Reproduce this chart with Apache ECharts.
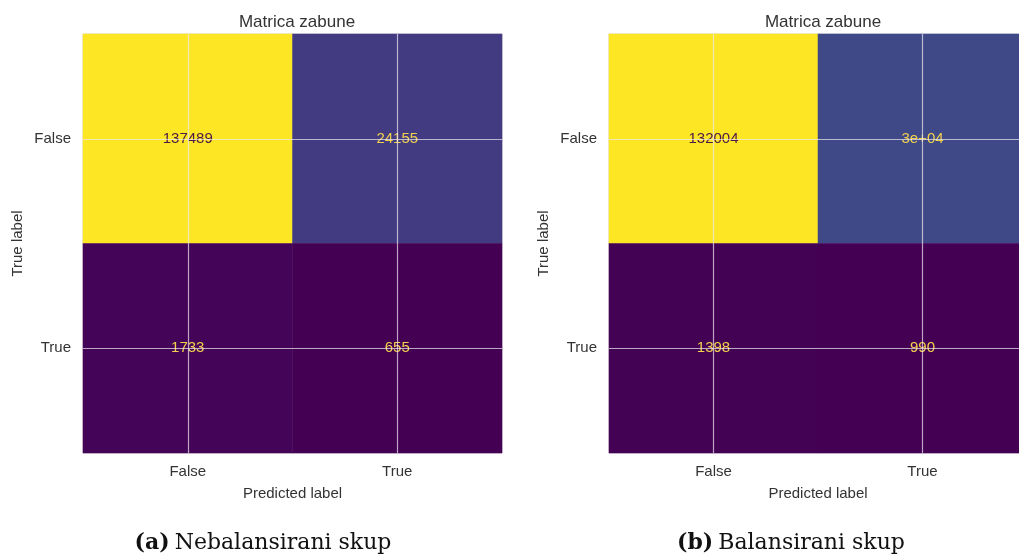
<!DOCTYPE html>
<html>
<head>
<meta charset="utf-8">
<title>Matrica zabune</title>
<script src="https://cdn.jsdelivr.net/npm/echarts@6/dist/echarts.min.js"></script>
<style>
  html, body { margin: 0; padding: 0; background: #ffffff; }
  #chart { width: 1019px; height: 557px; }
</style>
</head>
<body>
<div id="chart"></div>
<script>
// Class labels shared by both matrices
const classes = ['False', 'True'];

// Confusion matrix counts, rows = true label, columns = predicted label
const unbalancedRowFalse = [137489, 24155];
const unbalancedRowTrue = [1733, 655];
const balancedRowFalse = [132004, 29640];
const balancedRowTrue = [1398, 990];

const panelTitle = 'Matrica zabune';
const xAxisTitle = 'Predicted label';
const yAxisTitle = 'True label';
const captionA = ['(a)', 'Nebalansirani skup'];
const captionB = ['(b)', 'Balansirani skup'];

// viridis colour ramp
const viridis = ['#440154', '#482475', '#414487', '#355f8d', '#2a788e', '#21918c',
                 '#22a884', '#44bf70', '#7ad151', '#bddf26', '#fde725'];

// Text formatting in the style of '.2g' with a fallback to plain integers
function fmtG2(v) {
  if (v === 0) return '0';
  const rounded = Number(v.toPrecision(2));
  const e2 = Math.floor(Math.log10(Math.abs(rounded)));
  if (e2 < -4 || e2 >= 2) {
    const mant = (rounded / Math.pow(10, e2)).toFixed(1).replace(/\.?0+$/, '');
    const sign = e2 < 0 ? '-' : '+';
    const ee = String(Math.abs(e2)).padStart(2, '0');
    return mant + 'e' + sign + ee;
  }
  return String(rounded);
}
function cellText(v) {
  const g = fmtG2(v);
  const d = String(Math.round(v));
  return d.length < g.length ? d : g;
}

function toCells(rowFalse, rowTrue) {
  const out = [];
  [rowFalse, rowTrue].forEach((row, yi) => {
    row.forEach((v, xi) => out.push([xi, yi, v]));
  });
  return out;
}

const textFont = 'Liberation Sans, Arial, sans-serif';
const gridLineStyle = { color: 'rgba(236,230,240,0.72)', width: 1.2, type: 'solid' };

function buildSeries(idx, cells) {
  const vals = cells.map(c => c[2]);
  const lo = Math.min(...vals), hi = Math.max(...vals);
  const thresh = (lo + hi) / 2;
  return {
    type: 'heatmap',
    xAxisIndex: idx,
    yAxisIndex: idx,
    data: cells.map(c => ({
      value: c,
      label: { color: c[2] > thresh ? '#4a1746' : '#f2d24c' }
    })),
    label: {
      show: true,
      fontFamily: textFont,
      fontSize: 15,
      formatter: p => cellText(p.value[2])
    },
    itemStyle: { borderWidth: 0 },
    emphasis: { disabled: true },
    // grid lines through the centre of each class
    markLine: {
      silent: true,
      symbol: ['none', 'none'],
      label: { show: false },
      lineStyle: gridLineStyle,
      emphasis: { disabled: true },
      animation: false,
      data: classes.map(c => ({ xAxis: c })).concat(classes.map(c => ({ yAxis: c })))
    },
    z: 2
  };
}

const cellsA = toCells(unbalancedRowFalse, unbalancedRowTrue);
const cellsB = toCells(balancedRowFalse, balancedRowTrue);

function rangeOf(cells) {
  const v = cells.map(c => c[2]);
  return [Math.min(...v), Math.max(...v)];
}

function xAx(idx) {
  return {
    type: 'category', gridIndex: idx, data: classes,
    axisLine: { show: false }, axisTick: { show: false },
    splitLine: { show: false },
    axisLabel: { color: '#333', fontSize: 15, fontFamily: textFont, margin: 11, interval: 0 },
    name: xAxisTitle, nameLocation: 'middle', nameGap: 33,
    nameTextStyle: { color: '#333', fontSize: 15, fontFamily: textFont }
  };
}
function yAx(idx) {
  return {
    type: 'category', gridIndex: idx, data: classes, inverse: true,
    axisLine: { show: false }, axisTick: { show: false },
    splitLine: { show: false },
    axisLabel: { color: '#333', fontSize: 15, fontFamily: textFont, margin: 12, interval: 0 },
    name: yAxisTitle, nameLocation: 'middle', nameGap: 58, nameRotate: 90,
    nameTextStyle: { color: '#333', fontSize: 15, fontFamily: textFont }
  };
}

function caption(parts, x) {
  const serif = 'DejaVu Serif, serif';
  return {
    text: '{b|' + parts[0] + '} {n|' + parts[1] + '}', left: x, top: 527, textAlign: 'center',
    textStyle: {
      fontWeight: 'normal',
      rich: {
        b: { fontFamily: serif, fontWeight: 'bold', fontSize: 22, color: '#111' },
        n: { fontFamily: serif, fontWeight: 'normal', fontSize: 22, color: '#111' }
      }
    }
  };
}

const rA = rangeOf(cellsA), rB = rangeOf(cellsB);

const option = {
  backgroundColor: '#ffffff',
  animation: false,
  title: [
    { text: panelTitle, left: 292, top: 9, textAlign: 'center',
      textStyle: { color: '#333', fontSize: 17, fontWeight: 'normal', fontFamily: textFont } },
    { text: panelTitle, left: 818, top: 9, textAlign: 'center',
      textStyle: { color: '#333', fontSize: 17, fontWeight: 'normal', fontFamily: textFont } },
    caption(captionA, 258),
    caption(captionB, 786)
  ],
  grid: [
    { left: 83, top: 34, width: 419, height: 419, outerBoundsMode: 'none',
      show: true, borderColor: '#d0d0d0', borderWidth: 1, backgroundColor: 'transparent' },
    { left: 609, top: 34, width: 418, height: 419, outerBoundsMode: 'none',
      show: true, borderColor: '#d0d0d0', borderWidth: 1, backgroundColor: 'transparent' }
  ],
  xAxis: [xAx(0), xAx(1)],
  yAxis: [yAx(0), yAx(1)],
  visualMap: [
    { show: false, seriesIndex: 0, min: rA[0], max: rA[1], dimension: 2, inRange: { color: viridis } },
    { show: false, seriesIndex: 1, min: rB[0], max: rB[1], dimension: 2, inRange: { color: viridis } }
  ],
  series: [buildSeries(0, cellsA), buildSeries(1, cellsB)]
};

const chart = echarts.init(document.getElementById('chart'), null, { renderer: 'canvas' });
chart.setOption(option);
</script>
</body>
</html>
